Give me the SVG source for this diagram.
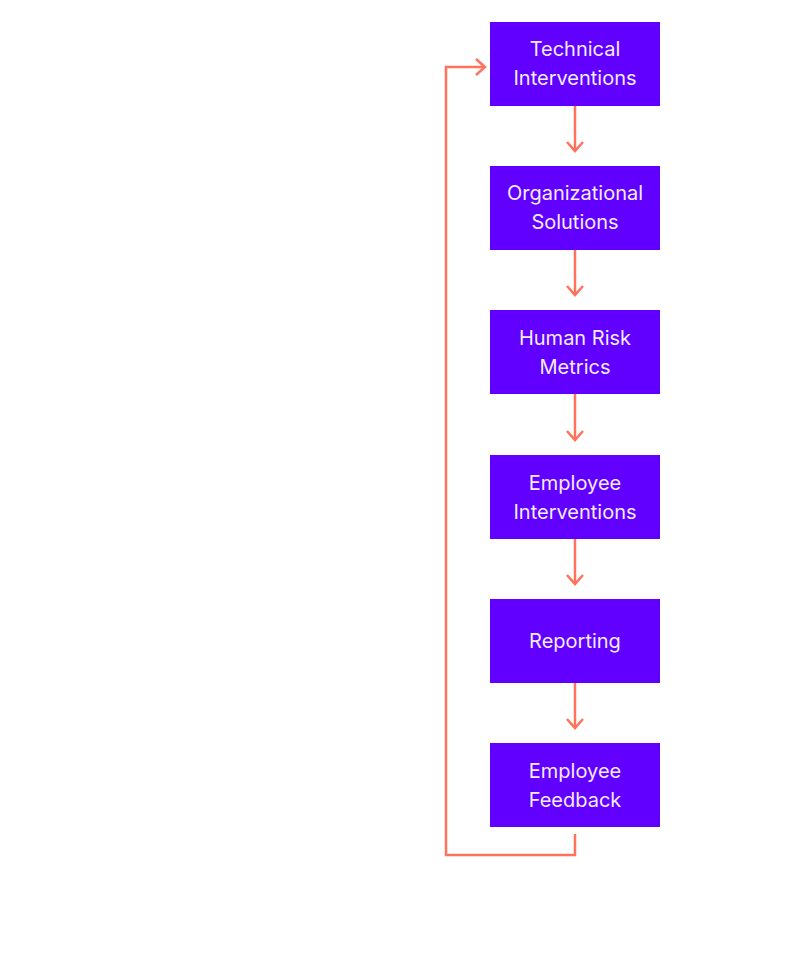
<svg xmlns="http://www.w3.org/2000/svg" width="810" height="979" viewBox="0 0 810 979">
<style>
.box{fill:#6100FF;}
.t{font-family:Inter,"Open Sans",sans-serif;font-size:20px;fill:#F3ECFF;text-anchor:middle;}
.c{fill:none;stroke:#FF725C;stroke-width:2.5;}
</style>
<defs>
<marker id="ah" viewBox="0 0 12 20" refX="10" refY="10" markerWidth="12" markerHeight="20" markerUnits="userSpaceOnUse" orient="auto">
<path d="M1,2 L10,10 L1,18" fill="none" stroke="#FF725C" stroke-width="2.5"/>
</marker>
</defs>
<rect width="810" height="979" fill="#fff"/>
<g id="connectors">
<path class="c" d="M575,106 V151" marker-end="url(#ah)"/>
<path class="c" d="M575,250 V295" marker-end="url(#ah)"/>
<path class="c" d="M575,394 V440" marker-end="url(#ah)"/>
<path class="c" d="M575,539 V584" marker-end="url(#ah)"/>
<path class="c" d="M575,683 V728" marker-end="url(#ah)"/>
<path class="c" d="M575,834 V855 H446 V67 H485" marker-end="url(#ah)"/>
</g>
<g id="n1"><rect class="box" x="490" y="22" width="170" height="84"/><text class="t" x="575" y="56">Technical</text><text class="t" x="575" y="85">Interventions</text></g>
<g id="n2"><rect class="box" x="490" y="166" width="170" height="84"/><text class="t" x="575" y="200">Organizational</text><text class="t" x="575" y="229">Solutions</text></g>
<g id="n3"><rect class="box" x="490" y="310" width="170" height="84"/><text class="t" x="575" y="345">Human Risk</text><text class="t" x="575" y="374">Metrics</text></g>
<g id="n4"><rect class="box" x="490" y="455" width="170" height="84"/><text class="t" x="575" y="490">Employee</text><text class="t" x="575" y="519">Interventions</text></g>
<g id="n5"><rect class="box" x="490" y="599" width="170" height="84"/><text class="t" x="575" y="648">Reporting</text></g>
<g id="n6"><rect class="box" x="490" y="743" width="170" height="84"/><text class="t" x="575" y="778">Employee</text><text class="t" x="575" y="807">Feedback</text></g>
</svg>
